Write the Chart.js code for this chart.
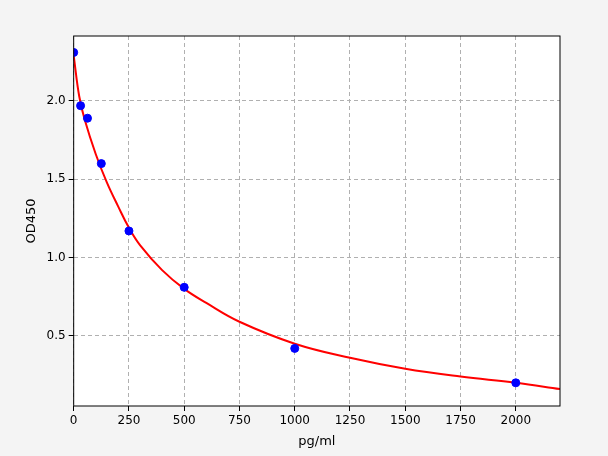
<!DOCTYPE html>
<html>
<head>
<script src="https://cdn.jsdelivr.net/npm/chart.js@4"></script>
<style>
body { margin: 0; background: #f4f4f4; }
#wrap { width: 608px; height: 456px; }
</style>
</head>
<body>
<div id="wrap"><canvas id="chart"></canvas></div>
<script>
// measured standards
var concX = [0, 31.25, 62.5, 125, 250, 500, 1000, 2000];
var odY = [2.31, 1.97, 1.89, 1.60, 1.17, 0.81, 0.42, 0.20];
// fitted curve
var curveX = [0, 25, 50, 100, 150, 200, 250, 300, 400, 500, 600, 750, 1000, 1250, 1500, 1750, 2000, 2200];
var curveY = [2.29, 2.03, 1.88, 1.66, 1.48, 1.33, 1.19, 1.08, 0.92, 0.80, 0.71, 0.59, 0.45, 0.36, 0.29, 0.24, 0.20, 0.16];
var xTicks = [0, 250, 500, 750, 1000, 1250, 1500, 1750, 2000];

var bgPlugin = {
    id: 'bg',
    beforeDraw: function (chart) {
        var c = chart.ctx, a = chart.chartArea;
        c.save();
        c.fillStyle = '#ffffff';
        c.fillRect(a.left, a.top, a.right - a.left, a.bottom - a.top);
        c.restore();
    },
    afterDraw: function (chart) {
        var c = chart.ctx, a = chart.chartArea;
        c.save();
        c.strokeStyle = '#000';
        c.lineWidth = 1;
        c.strokeRect(a.left, a.top, a.right - a.left, a.bottom - a.top);
        c.restore();
    }
};

var ctx = document.getElementById('chart').getContext('2d');
new Chart(ctx, {
    type: 'scatter',
    data: {
        datasets: [{
            data: curveX.map(function (x, i) { return { x: x, y: curveY[i] }; }),
            showLine: true,
            borderColor: '#ff0000',
            borderWidth: 2,
            pointRadius: 0,
            tension: 0.4,
            order: 2
        }, {
            data: concX.map(function (x, i) { return { x: x, y: odY[i] }; }),
            backgroundColor: '#0000ff',
            borderColor: '#0000ff',
            pointRadius: 4,
            order: 1
        }]
    },
    options: {
        responsive: true,
        maintainAspectRatio: false,
        animation: false,
        layout: { padding: { top: 36, right: 48, left: 20, bottom: 5 } },
        plugins: { legend: { display: false }, tooltip: { enabled: false } },
        scales: {
            x: {
                type: 'linear', min: 0, max: 2200,
                afterBuildTicks: function (axis) { axis.ticks = xTicks.map(function (v) { return { value: v }; }); },
                grid: { color: '#b0b0b0', tickColor: '#000', tickLength: 5 },
                border: { display: false, dash: [4, 3] },
                ticks: { color: '#000', font: { family: 'DejaVu Sans', size: 12 }, maxRotation: 0, callback: function (v) { return String(v); } },
                title: { display: true, text: 'pg/ml', color: '#000', font: { family: 'DejaVu Sans', size: 13 }, padding: 2 }
            },
            y: {
                type: 'linear', min: 0.052, max: 2.415,
                afterBuildTicks: function (axis) { axis.ticks = [0.5, 1.0, 1.5, 2.0].map(function (v) { return { value: v }; }); },
                grid: { color: '#b0b0b0', tickColor: '#000', tickLength: 5 },
                border: { display: false, dash: [4, 3] },
                ticks: { color: '#000', font: { family: 'DejaVu Sans', size: 12 }, callback: function (v) { return v.toFixed(1); } },
                title: { display: true, text: 'OD450', color: '#000', font: { family: 'DejaVu Sans', size: 13 } }
            }
        }
    },
    plugins: [bgPlugin]
});
</script>
</body>
</html>
